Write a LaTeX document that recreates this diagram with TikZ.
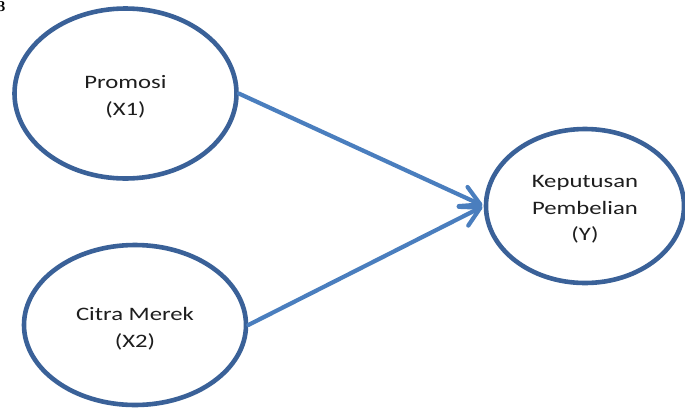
\documentclass[tikz,border=0pt]{standalone}
\usepackage{fontspec}
\setmainfont[FakeStretch=1.3]{Carlito}
\newfontfamily\markfont{Liberation Serif}
\usetikzlibrary{shapes.geometric,arrows.meta}
\definecolor{ellline}{HTML}{3A6198}
\definecolor{arrline}{HTML}{4A7EBE}
\definecolor{txt}{HTML}{1E1E1E}
\tikzset{
  latent/.style={ellipse, draw=ellline, line width=4.6pt, fill=white, inner sep=0pt},
  lbl/.style={align=center, text=txt, inner sep=0pt, yshift=-3.5pt,
    font=\fontsize{19}{26.5}\selectfont},
  path/.style={draw=arrline, line width=4.2pt, line cap=round,
    -{Straight Barb[length=19pt,width=21pt,round]}, shorten >=1.5pt},
}
\begin{document}
\begin{tikzpicture}[x=1pt,y=-1pt]
\useasboundingbox (0,0) rectangle (685,410);
\fill[white] (0,0) rectangle (685,410);
\node[anchor=east, inner sep=0pt, font=\markfont\bfseries\fontsize{15}{15}\selectfont] (mark) at (5.5,7) {3};
\node[latent, minimum width=222pt, minimum height=170pt] (x1) at (125.5,93.5) {};
\node[latent, minimum width=222pt, minimum height=160pt] (x2) at (135,325) {};
\node[latent, minimum width=198pt, minimum height=154pt] (y) at (585,206) {};
\node[lbl] (x1t) at (x1.center) {Promosi\\(X1)};
\node[lbl] (x2t) at (x2.center) {Citra Merek\\(X2)};
\node[lbl] (yt) at (y.center) {Keputusan\\Pembelian\\(Y)};
\draw[path] (x1.east) -- (y.west);
\draw[path] (x2.east) -- (y.west);
\end{tikzpicture}
\end{document}
